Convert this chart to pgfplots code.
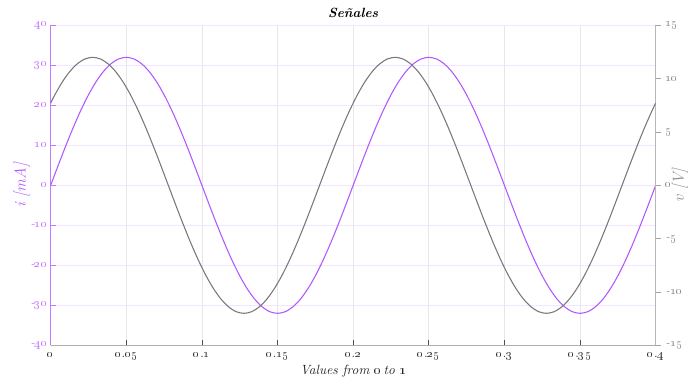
\documentclass[border=0pt]{standalone}
\usepackage{pgfplots}
\usepackage{pgfplotstable}
\pgfplotsset{compat=1.18}
\newcommand\os[1]{\oldstylenums{#1}}
\definecolor{ipurple}{RGB}{176,88,255}
\definecolor{ilab}{RGB}{196,118,255}
\definecolor{vgray}{RGB}{120,120,120}
\definecolor{vlab}{RGB}{140,140,140}
\definecolor{hgrid}{RGB}{243,228,255}
\definecolor{vgrid}{RGB}{230,228,236}
\pgfplotstableread{
t i
0.000 0
0.005 5.006
0.010 9.889
0.015 14.528
0.020 18.809
0.025 22.627
0.030 25.889
0.035 28.512
0.040 30.434
0.045 31.606
0.050 32
0.055 31.606
0.060 30.434
0.065 28.512
0.070 25.889
0.075 22.627
0.080 18.809
0.085 14.528
0.090 9.889
0.095 5.006
0.100 0
0.105 -5.006
0.110 -9.889
0.115 -14.528
0.120 -18.809
0.125 -22.627
0.130 -25.889
0.135 -28.512
0.140 -30.434
0.145 -31.606
0.150 -32
0.155 -31.606
0.160 -30.434
0.165 -28.512
0.170 -25.889
0.175 -22.627
0.180 -18.809
0.185 -14.528
0.190 -9.889
0.195 -5.006
0.200 0
0.205 5.006
0.210 9.889
0.215 14.528
0.220 18.809
0.225 22.627
0.230 25.889
0.235 28.512
0.240 30.434
0.245 31.606
0.250 32
0.255 31.606
0.260 30.434
0.265 28.512
0.270 25.889
0.275 22.627
0.280 18.809
0.285 14.528
0.290 9.889
0.295 5.006
0.300 0
0.305 -5.006
0.310 -9.889
0.315 -14.528
0.320 -18.809
0.325 -22.627
0.330 -25.889
0.335 -28.512
0.340 -30.434
0.345 -31.606
0.350 -32
0.355 -31.606
0.360 -30.434
0.365 -28.512
0.370 -25.889
0.375 -22.627
0.380 -18.809
0.385 -14.528
0.390 -9.889
0.395 -5.006
0.400 0
}\itable
\pgfplotstableread{
t v
0.00000 7.713
0.00278 8.485
0.00778 9.708
0.01278 10.692
0.01778 11.413
0.02278 11.852
0.02778 12
0.03278 11.852
0.03778 11.413
0.04278 10.692
0.04778 9.708
0.05278 8.485
0.05778 7.053
0.06278 5.448
0.06778 3.708
0.07278 1.877
0.07778 0
0.08278 -1.877
0.08778 -3.708
0.09278 -5.448
0.09778 -7.053
0.10278 -8.485
0.10778 -9.708
0.11278 -10.692
0.11778 -11.413
0.12278 -11.852
0.12778 -12
0.13278 -11.852
0.13778 -11.413
0.14278 -10.692
0.14778 -9.708
0.15278 -8.485
0.15778 -7.053
0.16278 -5.448
0.16778 -3.708
0.17278 -1.877
0.17778 0
0.18278 1.877
0.18778 3.708
0.19278 5.448
0.19778 7.053
0.20278 8.485
0.20778 9.708
0.21278 10.692
0.21778 11.413
0.22278 11.852
0.22778 12
0.23278 11.852
0.23778 11.413
0.24278 10.692
0.24778 9.708
0.25278 8.485
0.25778 7.053
0.26278 5.448
0.26778 3.708
0.27278 1.877
0.27778 0
0.28278 -1.877
0.28778 -3.708
0.29278 -5.448
0.29778 -7.053
0.30278 -8.485
0.30778 -9.708
0.31278 -10.692
0.31778 -11.413
0.32278 -11.852
0.32778 -12
0.33278 -11.852
0.33778 -11.413
0.34278 -10.692
0.34778 -9.708
0.35278 -8.485
0.35778 -7.053
0.36278 -5.448
0.36778 -3.708
0.37278 -1.877
0.37778 0
0.38278 1.877
0.38778 3.708
0.39278 5.448
0.39778 7.053
0.40000 7.713
}\vtable
\begin{document}
\begin{tikzpicture}
\begin{axis}[
  at={(0,0)}, anchor=south west,
  scale only axis,
  width=453.75pt, height=240pt,
  xmin=0, xmax=0.4, ymin=-40, ymax=40,
  axis y line*=left, axis x line*=bottom,
  x axis line style={vgray!60, line width=0.9pt, -},
  y axis line style={ipurple!80, line width=1.1pt, -},
  xtick={0,0.05,...,0.4},
  xticklabels={\os{0},\os{0}.\os{05},\os{0}.\os{1},\os{0}.\os{15},\os{0}.\os{2},\os{0}.\os{25},\os{0}.\os{3},\os{0}.\os{35},\os{0}.\os{4}},
  ytick={-40,-30,...,40},
  yticklabels={-\os{40},-\os{30},-\os{20},-\os{10},\os{0},\os{10},\os{20},\os{30},\os{40}},
  tick align=inside,
  major tick length=4pt,
  x tick style={black!70, line width=0.6pt},
  y tick style={ipurple!80, line width=0.6pt},
  tick label style={font=\itshape\small},
  yticklabel style={ilab, xshift=1pt},
  xticklabel style={black!80, yshift=-2pt},
  xmajorgrids, ymajorgrids,
  x grid style={vgrid, line width=0.5pt},
  y grid style={hgrid, line width=0.7pt},
  xlabel={\itshape Values from \os{0}\hspace{-1.5pt} to \os{1}},
  xlabel style={font=\normalsize, black!85, at={(axis description cs:0.5,-0.081)}, anchor=center},
  ylabel={\itshape i [mA]},
  ylabel style={font=\large, ipurple, at={(axis description cs:-0.048,0.5)}, anchor=center},
  title={\bfseries\itshape Señales},
  title style={font=\normalsize, yshift=-4pt},
]
\addplot[ipurple, line width=0.8pt, smooth] table[x=t, y=i] {\itable};
\end{axis}
\begin{axis}[
  at={(0,0)}, anchor=south west,
  scale only axis,
  width=453.75pt, height=240pt,
  xmin=0, xmax=0.4, ymin=-15, ymax=15,
  axis y line*=right, axis x line=none,
  y axis line style={vgrid!80!black, line width=0.6pt, -},
  ytick={-15,-10,...,15},
  yticklabels={-\os{15},-\os{10},-\os{5},\os{0},\os{5},\os{10},\os{15}},
  tick align=outside,
  major tick length=4pt,
  y tick style={vgrid!70!black, line width=0.5pt},
  tick label style={font=\itshape\small, vlab},
  ylabel={\itshape v [V]},
  ylabel style={font=\large, vlab, at={(axis description cs:1.040,0.5)}, anchor=center, rotate=0},
]
\addplot[vgray, line width=0.8pt, smooth] table[x=t, y=v] {\vtable};
\end{axis}
\pgfresetboundingbox
\useasboundingbox (-38pt,-27pt) rectangle (481.75pt,259pt);
\end{tikzpicture}
\end{document}
